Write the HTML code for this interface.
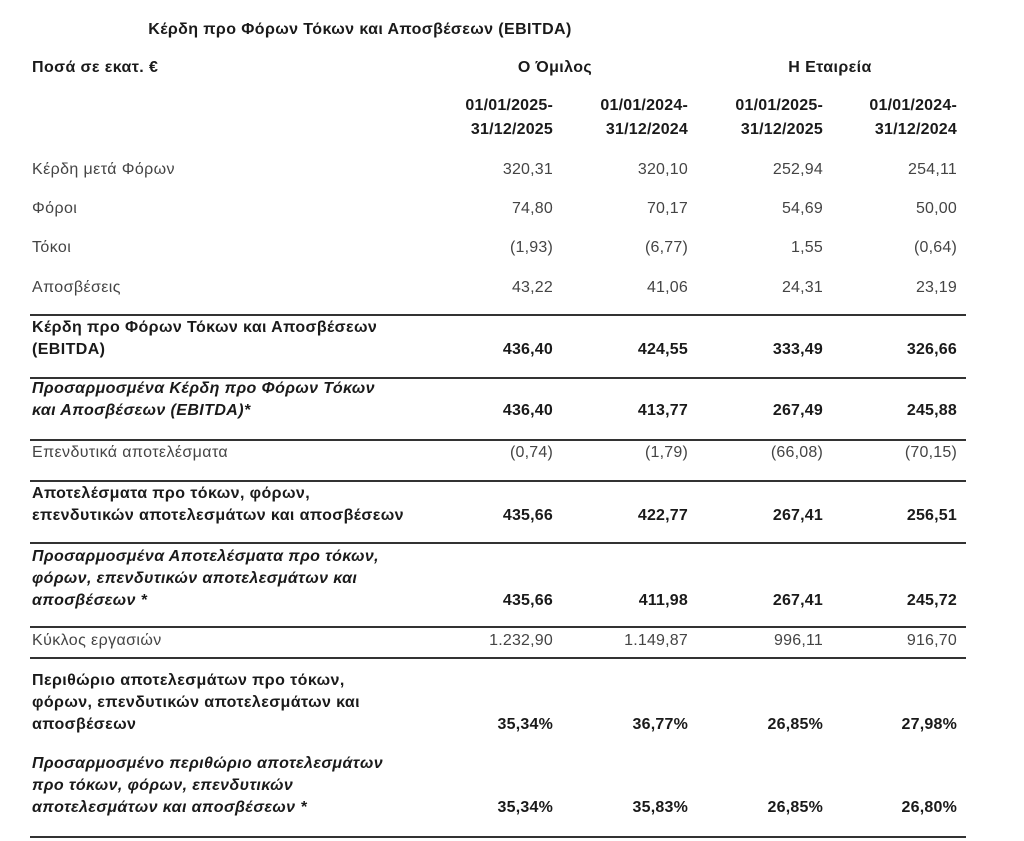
<!DOCTYPE html>
<html><head><meta charset="utf-8">
<style>
body{margin:0;width:1024px;height:841px;background:#fff;position:relative;overflow:hidden;font-family:"Liberation Sans","DejaVu Sans",sans-serif;color:#1a1a1a}
.t{position:absolute;white-space:nowrap;line-height:18px;font-size:16px;letter-spacing:0.4px}
.b{font-weight:bold}
.i{font-style:italic}
.n{color:#444}
.r{text-align:right;width:140px;letter-spacing:0.2px}
.c{text-align:center;width:200px}
.hl{position:absolute;left:30px;width:936px;height:2px;background:#333}
</style></head><body>
<div class="t b c" style="left:140px;top:21px;width:440px">Κέρδη προ Φόρων Τόκων και Αποσβέσεων (EBITDA)</div>
<div class="t b" style="left:32px;top:59px">Ποσά σε εκατ. €</div>
<div class="t b c" style="left:455px;top:59px">Ο Όμιλος</div>
<div class="t b c" style="left:730px;top:59px">Η Εταιρεία</div>
<div id="rows"></div>
<script>
const cols=[553,688,823,957];
const headers=[["01/01/2025-","31/12/2025"],["01/01/2024-","31/12/2024"],["01/01/2025-","31/12/2025"],["01/01/2024-","31/12/2024"]];
const labels=[["Κέρδη μετά Φόρων"],["Φόροι"],["Τόκοι"],["Αποσβέσεις"],
["Κέρδη προ Φόρων Τόκων και Αποσβέσεων","(EBITDA)"],
["Προσαρμοσμένα Κέρδη προ Φόρων Τόκων","και Αποσβέσεων (EBITDA)*"],
["Επενδυτικά αποτελέσματα"],
["Αποτελέσματα προ τόκων, φόρων,","επενδυτικών αποτελεσμάτων και αποσβέσεων"],
["Προσαρμοσμένα Αποτελέσματα προ τόκων,","φόρων,  επενδυτικών αποτελεσμάτων και","αποσβέσεων *"],
["Κύκλος εργασιών"],
["Περιθώριο αποτελεσμάτων προ τόκων,","φόρων, επενδυτικών αποτελεσμάτων και","αποσβέσεων"],
["Προσαρμοσμένο περιθώριο αποτελεσμάτων","προ τόκων, φόρων, επενδυτικών","αποτελεσμάτων και αποσβέσεων *"]];
const values=[["320,31","320,10","252,94","254,11"],["74,80","70,17","54,69","50,00"],["(1,93)","(6,77)","1,55","(0,64)"],["43,22","41,06","24,31","23,19"],
["436,40","424,55","333,49","326,66"],["436,40","413,77","267,49","245,88"],["(0,74)","(1,79)","(66,08)","(70,15)"],
["435,66","422,77","267,41","256,51"],["435,66","411,98","267,41","245,72"],["1.232,90","1.149,87","996,11","916,70"],
["35,34%","36,77%","26,85%","27,98%"],["35,34%","35,83%","26,85%","26,80%"]];
const styles=["n","n","n","n","b","b i","n","b","b i","n","b","b i"];
const rowY=[170,209,248,288,328,389,453,494,557,641,681,764];
const lines=[315,378,440,481,543,627,658,837];
const root=document.getElementById('rows');
function add(cls,txt,x,y){const d=document.createElement('div');d.className='t '+cls;d.textContent=txt;d.style.left=x+'px';d.style.top=(y-9)+'px';root.appendChild(d);return d;}
headers.forEach((h,i)=>{h.forEach((s,j)=>{const d=add('b r',s,cols[i]-140,106+j*24);

});});
labels.forEach((ls,i)=>{const st=styles[i];
ls.forEach((s,j)=>{const d=add(st,s,32,rowY[i]+j*22);

});
const vy=rowY[i]+(ls.length-1)*22;
values[i].forEach((v,k)=>{const d=add((st.indexOf('b')>=0?'b ':'n ')+'r',v,cols[k]-140,vy);

});});
lines.forEach(y=>{const d=document.createElement('div');d.className='hl';d.style.top=(y-1)+'px';


root.appendChild(d);});
</script>
</body></html>
